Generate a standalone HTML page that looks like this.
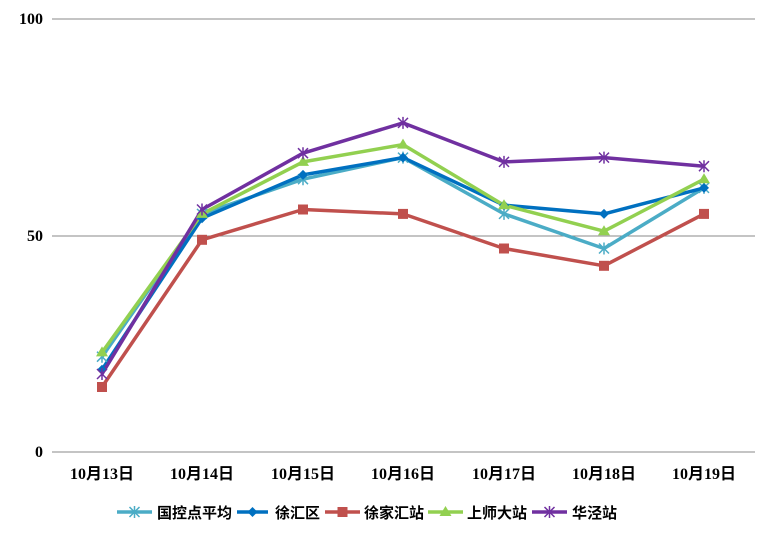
<!DOCTYPE html>
<html><head><meta charset="utf-8"><style>
html,body{margin:0;padding:0;background:#fff;}
svg{display:block;}
text{font-family:"Liberation Serif","Noto Sans CJK SC",serif;font-weight:bold;font-size:16px;fill:#000;}
.lg{font-family:"Liberation Sans","Noto Sans CJK SC",sans-serif;font-size:15px;}
</style></head><body>
<svg width="773" height="539" viewBox="0 0 773 539" xmlns="http://www.w3.org/2000/svg">
<defs>
<g id="xs"><path d="M-5,-5L5,5M-5,5L5,-5M0,-6V6" stroke-width="1.5" fill="none"/></g>
</defs>
<line x1="52" y1="19" x2="755" y2="19" stroke="#888" stroke-width="1"/>
<line x1="52" y1="236" x2="755" y2="236" stroke="#888" stroke-width="1"/>
<line x1="52" y1="452" x2="755" y2="452" stroke="#888" stroke-width="1"/>
<text x="43" y="24" text-anchor="end">100</text>
<text x="43" y="241" text-anchor="end">50</text>
<text x="43" y="457" text-anchor="end">0</text>
<g text-anchor="middle">
<text x="102" y="479">10月13日</text><text x="202" y="479">10月14日</text><text x="303" y="479">10月15日</text><text x="403" y="479">10月16日</text><text x="504" y="479">10月17日</text><text x="604" y="479">10月18日</text><text x="704" y="479">10月19日</text>
</g>
<g fill="none" stroke-width="3.5" stroke-linejoin="round">
<polyline stroke="#4bacc6" points="102,356.7 202,213.9 303,179.2 403,157.6 504,213.9 604,248.5 704,187.9"/>
<polyline stroke="#0070c0" points="102,369.7 202,218.2 303,174.9 403,157.6 504,205.2 604,213.9 704,187.9"/>
<polyline stroke="#c0504d" points="102,387 202,239.8 303,209.5 403,213.9 504,248.5 604,265.8 704,213.9"/>
<polyline stroke="#92d050" points="102,352.4 202,213.9 303,161.9 403,144.6 504,205.2 604,231.2 704,179.2"/>
<polyline stroke="#7030a0" points="102,374 202,209.5 303,153.2 403,122.9 504,161.9 604,157.6 704,166.2"/>
</g>
<g stroke="#4bacc6">
<use href="#xs" x="102" y="356.7"/><use href="#xs" x="202" y="213.9"/><use href="#xs" x="303" y="179.2"/><use href="#xs" x="403" y="157.6"/><use href="#xs" x="504" y="213.9"/><use href="#xs" x="604" y="248.5"/><use href="#xs" x="704" y="187.9"/>
</g>
<g fill="#0070c0">
<path d="M102,364.7l5,5-5,5-5-5z"/><path d="M202,213.2l5,5-5,5-5-5z"/><path d="M303,169.9l5,5-5,5-5-5z"/><path d="M403,152.6l5,5-5,5-5-5z"/><path d="M504,200.2l5,5-5,5-5-5z"/><path d="M604,208.9l5,5-5,5-5-5z"/><path d="M704,182.9l5,5-5,5-5-5z"/>
</g>
<g fill="#c0504d">
<rect x="97" y="382" width="10" height="10"/><rect x="197" y="234.8" width="10" height="10"/><rect x="298" y="204.5" width="10" height="10"/><rect x="398" y="208.9" width="10" height="10"/><rect x="499" y="243.5" width="10" height="10"/><rect x="599" y="260.8" width="10" height="10"/><rect x="699" y="208.9" width="10" height="10"/>
</g>
<g fill="#92d050">
<path d="M102,346.4l6,10h-12z"/><path d="M202,207.9l6,10h-12z"/><path d="M303,155.9l6,10h-12z"/><path d="M403,138.6l6,10h-12z"/><path d="M504,199.2l6,10h-12z"/><path d="M604,225.2l6,10h-12z"/><path d="M704,173.2l6,10h-12z"/>
</g>
<g stroke="#7030a0">
<use href="#xs" x="102" y="374"/><use href="#xs" x="202" y="209.5"/><use href="#xs" x="303" y="153.2"/><use href="#xs" x="403" y="122.9"/><use href="#xs" x="504" y="161.9"/><use href="#xs" x="604" y="157.6"/><use href="#xs" x="704" y="166.2"/>
</g>
<g stroke-width="3.5">
<line x1="117" y1="512" x2="152" y2="512" stroke="#4bacc6"/>
<line x1="237" y1="512" x2="268" y2="512" stroke="#0070c0"/>
<line x1="325" y1="512" x2="360" y2="512" stroke="#c0504d"/>
<line x1="428" y1="512" x2="463" y2="512" stroke="#92d050"/>
<line x1="532" y1="512" x2="567" y2="512" stroke="#7030a0"/>
</g>
<use href="#xs" x="134.5" y="512" stroke="#4bacc6"/>
<path d="M252.5,507l5,5-5,5-5-5z" fill="#0070c0"/>
<rect x="337.5" y="507" width="10" height="10" fill="#c0504d"/>
<path d="M445.5,506l6,10h-12z" fill="#92d050"/>
<use href="#xs" x="549.5" y="512" stroke="#7030a0"/>
<text class="lg" x="157" y="518">国控点平均</text>
<text class="lg" x="275" y="518">徐汇区</text>
<text class="lg" x="364" y="518">徐家汇站</text>
<text class="lg" x="467" y="518">上师大站</text>
<text class="lg" x="572" y="518">华泾站</text>
</svg>
</body></html>
